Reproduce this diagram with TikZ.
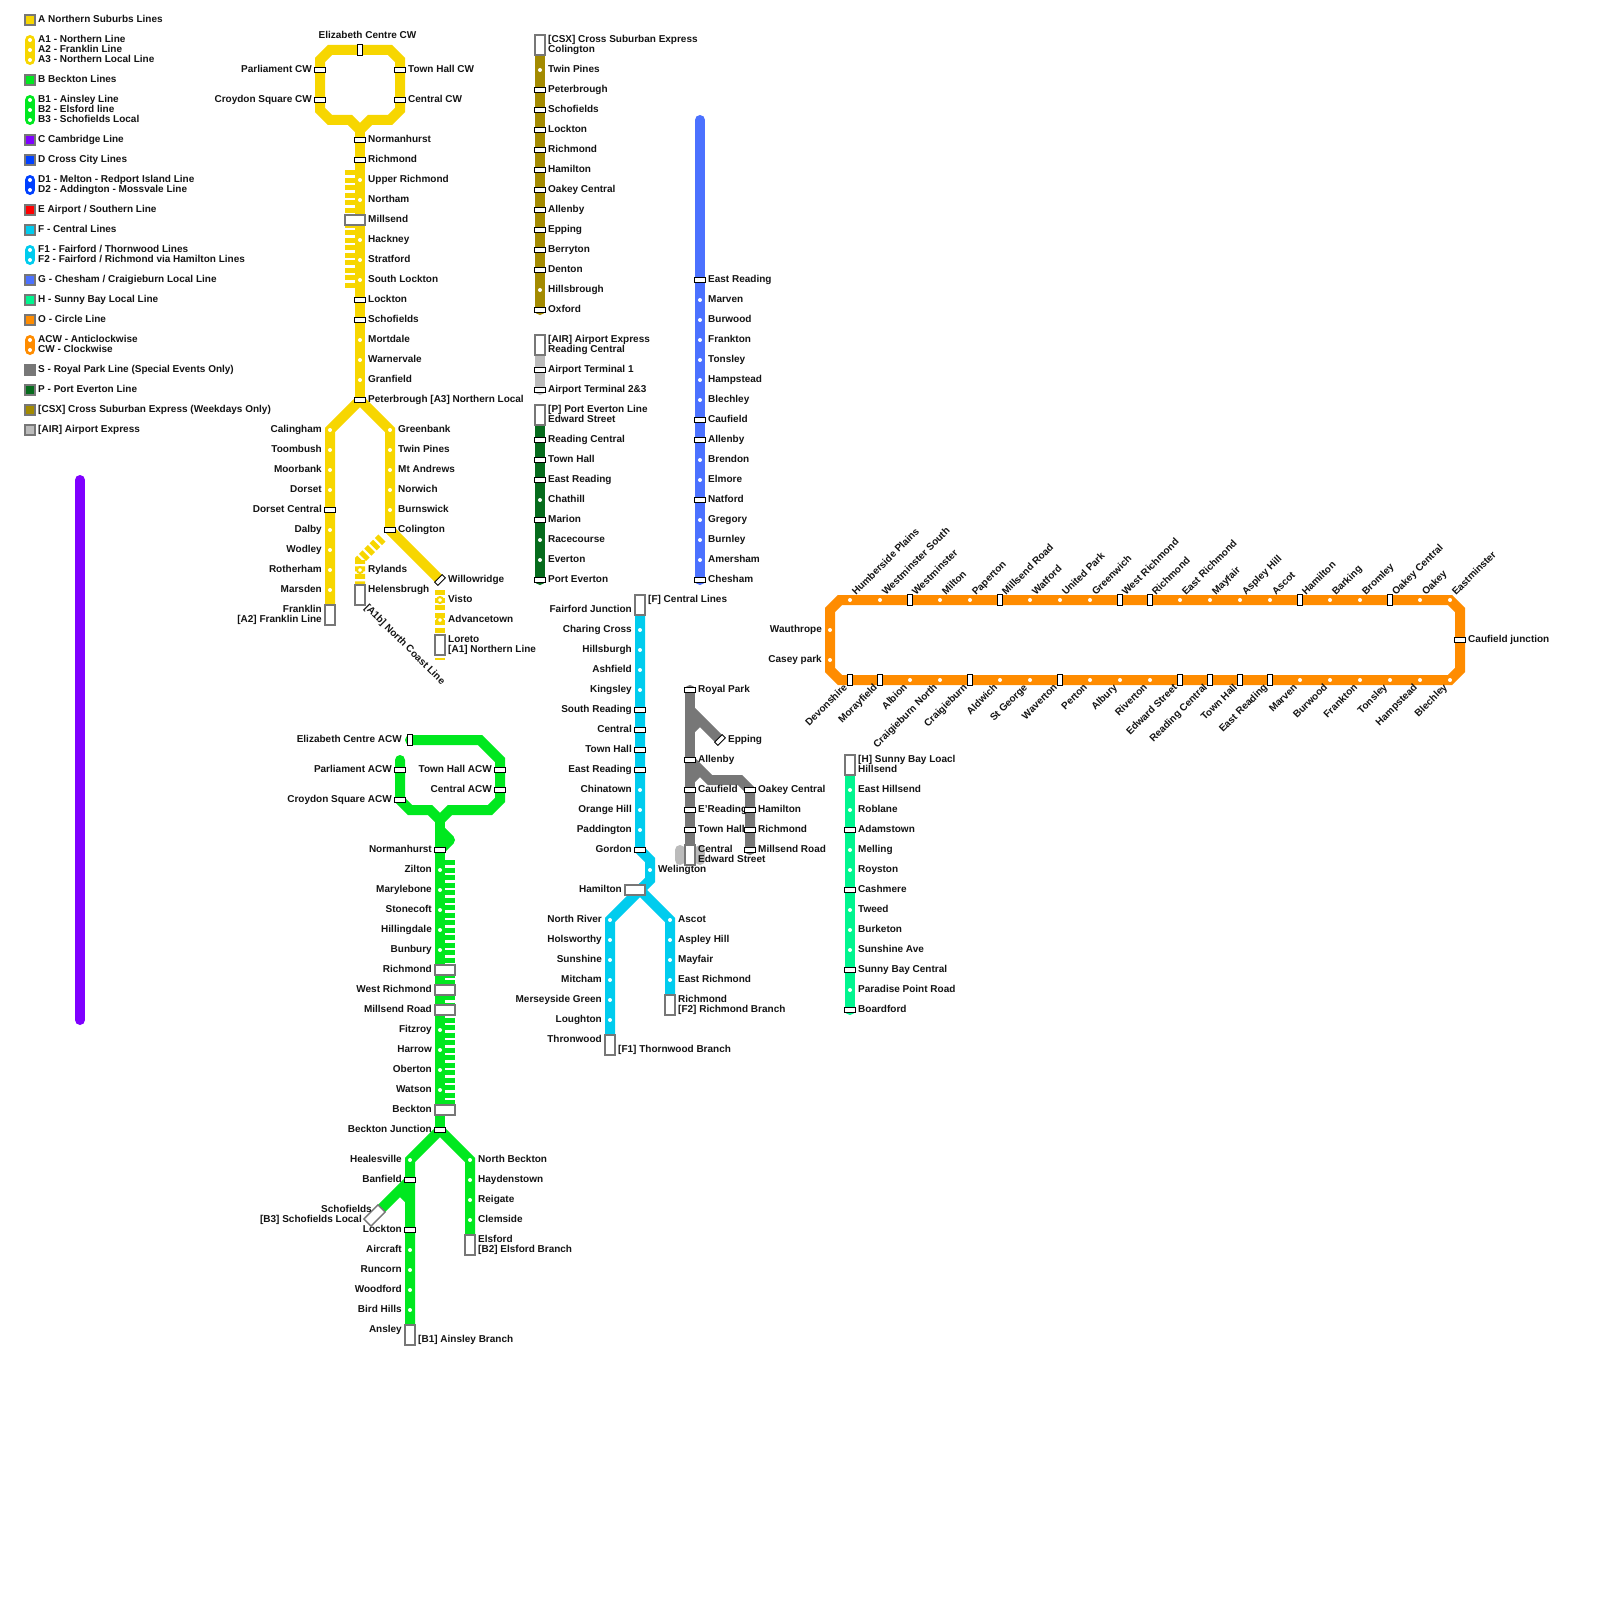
\documentclass[tikz,border=0pt]{standalone}
\usepackage{fontspec}
\setmainfont{Liberation Sans}
\usepackage{xcolor}
\usepackage{tikz}
\usetikzlibrary{backgrounds}
\definecolor{mapyellow}{HTML}{F7D600}
\definecolor{mapgreen}{HTML}{00E81F}
\definecolor{mappurple}{HTML}{7F00FF}
\definecolor{mapblue}{HTML}{0040FF}
\definecolor{mapred}{HTML}{FF0000}
\definecolor{mapcyan}{HTML}{00CCEE}
\definecolor{mapsky}{HTML}{4B71FF}
\definecolor{mapmint}{HTML}{00F58F}
\definecolor{maporange}{HTML}{FF8C00}
\definecolor{mapgray}{HTML}{777777}
\definecolor{mapforest}{HTML}{056B1C}
\definecolor{mapolive}{HTML}{A38A00}
\definecolor{mapsilver}{HTML}{BBBBBB}

\begin{document}
\begin{tikzpicture}[
    x=1pt, y=-1pt,
    track/.style={line width=10pt},
    endround/.style={track, line cap=round},
    stripes/.style={track, dash pattern=on 5pt off 2.5pt},
    txt/.style={inner sep=0pt, font=\fontsize{10}{10}\selectfont\bfseries, text=black!92},
    oneline/.style={txt, text height=7.5pt, text depth=2pt},
    twolines/.style={txt, execute at begin node=\rule{0pt}{7.5pt}, execute at end node=\rule[-2pt]{0pt}{2pt}},
    lblr/.style={oneline, anchor=west, xshift=8pt, yshift=.2pt},
    lbll/.style={oneline, anchor=east, xshift=-8pt, yshift=.2pt},
    lblrr/.style={twolines, anchor=west, xshift=8pt, yshift=.2pt, align=left},
    lblll/.style={twolines, anchor=east, xshift=-8pt, yshift=.2pt, align=right},
    lblup/.style={oneline, anchor=west, rotate=45},
    lbldn/.style={oneline, anchor=east, rotate=45},
    dot/.style={circle, fill=white, minimum size=4pt, inner sep=0pt},
    ringdot/.style={circle, fill=white, draw=mapyellow, line width=2pt, minimum size=6pt, inner sep=0pt},
    tickh/.style={draw=black, fill=white, line width=.9pt, minimum width=10.5pt, minimum height=4.6pt, inner sep=0pt},
    tickv/.style={tickh, minimum width=4.6pt, minimum height=10.5pt},
    tickd/.style={tickh, rotate=45},
    termbox/.style={draw=mapgray, fill=white, line width=1.4pt, minimum width=10pt, minimum height=20pt, inner sep=0pt},
    widebox/.style={termbox, minimum width=20pt, minimum height=10pt},
    wideleft/.style={widebox, xshift=-5pt},
    wideright/.style={widebox, xshift=5pt},
    legsq/.style={draw=mapgray, line width=1.4pt, minimum size=10pt, inner sep=0pt},
]
\useasboundingbox (0,0) rectangle (1600,1600);

% Legend squares
\foreach \y/\col/\lbl in {20/mapyellow/A Northern Suburbs Lines, 80/mapgreen/B Beckton Lines,
    140/mappurple/C Cambridge Line, 160/mapblue/D Cross City Lines, 210/mapred/{E Airport / Southern Line},
    230/mapcyan/F - Central Lines, 280/mapsky/{G - Chesham / Craigieburn Local Line},
    300/mapmint/H - Sunny Bay Local Line, 320/maporange/O - Circle Line,
    370/mapgray/S - Royal Park Line (Special Events Only), 390/mapforest/P - Port Everton Line,
    410/mapolive/{[CSX] Cross Suburban Express (Weekdays Only)}, 430/mapsilver/{[AIR] Airport Express}} {
  \node[legsq, fill=\col] (leg\y) at (30,\y) {};
  \node[lblr] (leg\y t) at (30,\y) {\lbl};
}
% Legend pills
\foreach \y/\lbl in {40/A1 - Northern Line, 50/A2 - Franklin Line, 60/A3 - Northern Local Line,
    100/B1 - Ainsley Line, 110/B2 - Elsford line, 120/B3 - Schofields Local,
    180/D1 - Melton - Redport Island Line, 190/D2 - Addington - Mossvale Line,
    250/{F1 - Fairford / Thornwood Lines}, 260/{F2 - Fairford / Richmond via Hamilton Lines},
    340/ACW - Anticlockwise, 350/CW - Clockwise} {
  \node[dot] (leg\y) at (30,\y) {};
  \node[lblr] (leg\y t) at (30,\y) {\lbl};
}

% A: Northern Suburbs
\foreach \y/\kind/\lbl in {140/tickh/Normanhurst, 160/tickh/Richmond, 180/dot/Upper Richmond, 200/dot/Northam,
    220/wideleft/Millsend, 240/dot/Hackney, 260/dot/Stratford, 280/dot/South Lockton, 300/tickh/Lockton,
    320/tickh/Schofields, 340/dot/Mortdale, 360/dot/Warnervale, 380/dot/Granfield,
    400/tickh/{Peterbrough [A3] Northern Local}} {
  \node[\kind] (a\y) at (360,\y) {};
  \node[lblr] (a\y t) at (360,\y) {\lbl};
}
\node[tickv] (atop) at (360,50) {};
\node[oneline] (atopt) at (367.5,36) {Elizabeth Centre CW};
\node[tickh] (al70) at (320,70) {};
\node[lbll] (al70t) at (320,70) {Parliament CW};
\node[tickh] (al100) at (320,100) {};
\node[lbll] (al100t) at (320,100) {Croydon Square CW};
\node[tickh] (ar70) at (400,70) {};
\node[lblr] (ar70t) at (400,70) {Town Hall CW};
\node[tickh] (ar100) at (400,100) {};
\node[lblr] (ar100t) at (400,100) {Central CW};
\foreach \y/\kind/\lbl in {430/dot/Calingham, 450/dot/Toombush, 470/dot/Moorbank, 490/dot/Dorset,
    510/tickh/Dorset Central, 530/dot/Dalby, 550/dot/Wodley, 570/dot/Rotherham, 590/dot/Marsden} {
  \node[\kind] (af\y) at (330,\y) {};
  \node[lbll] (af\y t) at (330,\y) {\lbl};
}
\node[termbox] (af615) at (330,615) {};
\node[lblll] (af615t) at (330,615) {Franklin\\{[A2] Franklin Line}};
\foreach \y/\kind/\lbl in {430/dot/Greenbank, 450/dot/Twin Pines, 470/dot/Mt Andrews, 490/dot/Norwich,
    510/dot/Burnswick, 530/tickh/Colington} {
  \node[\kind] (an\y) at (390,\y) {};
  \node[lblr] (an\y t) at (390,\y) {\lbl};
}
\node[tickd] (an580) at (440,580) {};
\node[lblr] (an580t) at (440,580) {Willowridge};
\node[ringdot] (an600) at (440,600) {};
\node[lblr] (an600t) at (440,600) {Visto};
\node[ringdot] (an620) at (440,620) {};
\node[lblr] (an620t) at (440,620) {Advancetown};
\node[termbox] (an645) at (440,645) {};
\node[lblrr] (an645t) at (440,645) {Loreto\\{[A1] Northern Line}};
\node[ringdot] (ac570) at (360,570) {};
\node[lblr] (ac570t) at (360,570) {Rylands};
\node[termbox] (ac595) at (360,595) {};
\node[lblr] (ac595t) at (360,590) {Helensbrugh};
\node[oneline, anchor=west, rotate=-45] (ac595n) at (366,606) {[A1b] North Coast Line};

% B: Beckton
\foreach \y/\kind/\lbl in {850/tickh/Normanhurst, 870/dot/Zilton, 890/dot/Marylebone, 910/dot/Stonecoft,
    930/dot/Hillingdale, 950/dot/Bunbury, 970/wideright/Richmond, 990/wideright/West Richmond,
    1010/wideright/Millsend Road, 1030/dot/Fitzroy, 1050/dot/Harrow, 1070/dot/Oberton, 1090/dot/Watson,
    1110/wideright/Beckton, 1130/tickh/Beckton Junction} {
  \node[\kind] (b\y) at (440,\y) {};
  \node[lbll] (b\y t) at (440,\y) {\lbl};
}
\node[tickv] (btop) at (410,740) {};
\node[lbll] (btopt) at (410,740) {Elizabeth Centre ACW};
\node[tickh] (bl770) at (400,770) {};
\node[lbll] (bl770t) at (400,770) {Parliament ACW};
\node[tickh] (bl800) at (400,800) {};
\node[lbll] (bl800t) at (400,800) {Croydon Square ACW};
\node[tickh] (br770) at (500,770) {};
\node[lbll] (br770t) at (500,770) {Town Hall ACW};
\node[tickh] (br790) at (500,790) {};
\node[lbll] (br790t) at (500,790) {Central ACW};
\foreach \y/\kind/\lbl in {1160/dot/Healesville, 1180/tickh/Banfield, 1230/tickh/Lockton, 1250/dot/Aircraft,
    1270/dot/Runcorn, 1290/dot/Woodford, 1310/dot/Bird Hills} {
  \node[\kind] (ba\y) at (410,\y) {};
  \node[lbll] (ba\y t) at (410,\y) {\lbl};
}
\node[termbox] (ba1335) at (410,1335) {};
\node[lbll] (ba1335l) at (410,1330) {Ansley};
\node[lblr] (ba1335r) at (410,1340) {[B1] Ainsley Branch};
\node[widebox, rotate=45] (bs) at (374.5,1215.5) {};
\node[lbll] (bst) at (380,1210) {Schofields};
\node[lbll] (bsb) at (370,1220) {[B3] Schofields Local};
\foreach \y/\kind/\lbl in {1160/dot/North Beckton, 1180/dot/Haydenstown, 1200/dot/Reigate, 1220/dot/Clemside} {
  \node[\kind] (be\y) at (470,\y) {};
  \node[lblr] (be\y t) at (470,\y) {\lbl};
}
\node[termbox] (be1245) at (470,1245) {};
\node[lblrr] (be1245t) at (470,1245) {Elsford\\{[B2] Elsford Branch}};

% CSX, Airport, Port Everton
\node[termbox] (csx45) at (540,45) {};
\node[lblrr] (csx45t) at (540,45) {{[CSX] Cross Suburban Express}\\Colington};
\foreach \y/\kind/\lbl in {70/dot/Twin Pines, 90/tickh/Peterbrough, 110/tickh/Schofields, 130/tickh/Lockton,
    150/tickh/Richmond, 170/tickh/Hamilton, 190/tickh/Oakey Central, 210/tickh/Allenby, 230/tickh/Epping,
    250/tickh/Berryton, 270/tickh/Denton, 290/dot/Hillsbrough, 310/tickh/Oxford} {
  \node[\kind] (csx\y) at (540,\y) {};
  \node[lblr] (csx\y t) at (540,\y) {\lbl};
}
\node[termbox] (air345) at (540,345) {};
\node[lblrr] (air345t) at (540,345) {{[AIR] Airport Express}\\Reading Central};
\node[tickh] (air370) at (540,370) {};
\node[lblr] (air370t) at (540,370) {Airport Terminal 1};
\node[tickh] (air390) at (540,390) {};
\node[lblr] (air390t) at (540,390) {Airport Terminal 2\&3};
\node[termbox] (pe415) at (540,415) {};
\node[lblrr] (pe415t) at (540,415) {{[P] Port Everton Line}\\Edward Street};
\foreach \y/\kind/\lbl in {440/tickh/Reading Central, 460/tickh/Town Hall, 480/tickh/East Reading, 500/dot/Chathill,
    520/tickh/Marion, 540/dot/Racecourse, 560/dot/Everton, 580/tickh/Port Everton} {
  \node[\kind] (pe\y) at (540,\y) {};
  \node[lblr] (pe\y t) at (540,\y) {\lbl};
}

% G: Chesham
\foreach \y/\kind/\lbl in {280/tickh/East Reading, 300/dot/Marven, 320/dot/Burwood, 340/dot/Frankton, 360/dot/Tonsley,
    380/dot/Hampstead, 400/dot/Blechley, 420/tickh/Caufield, 440/tickh/Allenby, 460/dot/Brendon, 480/dot/Elmore,
    500/tickh/Natford, 520/dot/Gregory, 540/dot/Burnley, 560/dot/Amersham, 580/tickh/Chesham} {
  \node[\kind] (g\y) at (700,\y) {};
  \node[lblr] (g\y t) at (700,\y) {\lbl};
}

% F: Central
\node[termbox] (f605) at (640,605) {};
\node[lblr] (f605r) at (640,600) {[F] Central Lines};
\node[lbll] (f605l) at (640,610) {Fairford Junction};
\foreach \y/\kind/\lbl in {630/dot/Charing Cross, 650/dot/Hillsburgh, 670/dot/Ashfield, 690/dot/Kingsley,
    710/tickh/South Reading, 730/tickh/Central, 750/tickh/Town Hall, 770/tickh/East Reading, 790/dot/Chinatown,
    810/dot/Orange Hill, 830/dot/Paddington, 850/tickh/Gordon} {
  \node[\kind] (f\y) at (640,\y) {};
  \node[lbll] (f\y t) at (640,\y) {\lbl};
}
\node[dot] (f870) at (650,870) {};
\node[lblr] (f870t) at (650,870) {Welington};
\node[widebox] (f890) at (635,890) {};
\node[lbll] (f890t) at (630,890) {Hamilton};
\foreach \y/\lbl in {920/North River, 940/Holsworthy, 960/Sunshine, 980/Mitcham, 1000/Merseyside Green, 1020/Loughton} {
  \node[dot] (fl\y) at (610,\y) {};
  \node[lbll] (fl\y t) at (610,\y) {\lbl};
}
\node[termbox] (fl1045) at (610,1045) {};
\node[lbll] (fl1045l) at (610,1040) {Thronwood};
\node[lblr] (fl1045r) at (610,1050) {[F1] Thornwood Branch};
\foreach \y/\lbl in {920/Ascot, 940/Aspley Hill, 960/Mayfair, 980/East Richmond} {
  \node[dot] (fr\y) at (670,\y) {};
  \node[lblr] (fr\y t) at (670,\y) {\lbl};
}
\node[termbox] (fr1005) at (670,1005) {};
\node[lblrr] (fr1005t) at (670,1005) {Richmond\\{[F2] Richmond Branch}};

% S: Royal Park
\foreach \y/\lbl in {690/Royal Park, 760/Allenby, 790/Caufield, 810/E'Reading, 830/Town Hall} {
  \node[tickh] (s\y) at (690,\y) {};
  \node[lblr] (s\y t) at (690,\y) {\lbl};
}
\node[termbox] (s855) at (690,855) {};
\node[lblrr] (s855t) at (690,855) {Central\\Edward Street};
\node[tickd] (sep) at (720,740) {};
\node[lblr] (sept) at (720,740) {Epping};
\foreach \y/\lbl in {790/Oakey Central, 810/Hamilton, 830/Richmond, 850/Millsend Road} {
  \node[tickh] (so\y) at (750,\y) {};
  \node[lblr] (so\y t) at (750,\y) {\lbl};
}

% H: Sunny Bay
\node[termbox] (h765) at (850,765) {};
\node[lblrr] (h765t) at (850,765) {{[H] Sunny Bay Loacl}\\Hillsend};
\foreach \y/\kind/\lbl in {790/dot/East Hillsend, 810/dot/Roblane, 830/tickh/Adamstown, 850/dot/Melling, 870/dot/Royston,
    890/tickh/Cashmere, 910/dot/Tweed, 930/dot/Burketon, 950/dot/Sunshine Ave, 970/tickh/Sunny Bay Central,
    990/dot/Paradise Point Road, 1010/tickh/Boardford} {
  \node[\kind] (h\y) at (850,\y) {};
  \node[lblr] (h\y t) at (850,\y) {\lbl};
}

% O: Circle
\foreach \x/\kind/\lbl in {850/dot/Humberside Plains, 880/dot/Westminster South, 910/tickv/Westminster, 940/dot/Milton,
    970/dot/Paperton, 1000/tickv/Millsend Road, 1030/dot/Watford, 1060/dot/United Park, 1090/dot/Greenwich,
    1120/tickv/West Richmond, 1150/tickv/Richmond, 1180/dot/East Richmond, 1210/dot/Mayfair, 1240/dot/Aspley Hill,
    1270/dot/Ascot, 1300/tickv/Hamilton, 1330/dot/Barking, 1360/dot/Bromley, 1390/tickv/Oakey Central, 1420/dot/Oakey,
    1450/dot/Eastminster} {
  \node[\kind] (ot\x) at (\x,600) {};
  \node[lblup] (ot\x t) at (\x+4,594) {\lbl};
}
\foreach \x/\kind/\lbl in {850/tickv/Devonshire, 880/tickv/Morayfield, 910/dot/Albion, 940/dot/Craigieburn North,
    970/tickv/Craigieburn, 1000/dot/Aldwich, 1030/dot/St George, 1060/tickv/Waverton, 1090/dot/Perton, 1120/dot/Albury,
    1150/dot/Riverton, 1180/tickv/Edward Street, 1210/tickv/Reading Central, 1240/tickv/Town Hall, 1270/tickv/East Reading,
    1300/dot/Marven, 1330/dot/Burwood, 1360/dot/Frankton, 1390/dot/Tonsley, 1420/dot/Hampstead, 1450/dot/Blechley} {
  \node[\kind] (ob\x) at (\x,680) {};
  \node[lbldn] (ob\x t) at (\x-4,686) {\lbl};
}
\node[dot] (ol630) at (830,630) {};
\node[lbll] (ol630t) at (830,630) {Wauthrope};
\node[dot] (ol660) at (830,660) {};
\node[lbll] (ol660t) at (830,660) {Casey park};
\node[tickh] (or640) at (1460,640) {};
\node[lblr] (or640t) at (1460,640) {Caufield junction};

% Bend points
\foreach \n/\x/\y in {aa/360/130, ab/350/120, ac/330/120, ad/320/110, ae/320/60, af/330/50, ag/390/50, ah/400/60,
    ai/400/110, aj/390/120, ak/370/120, as1/350/170, as2/350/288, an1/382/538, an2/360/560, an3/360/584,
    an4/440/590, an5/440/660,
    ba/440/820, bb/430/810, bc/410/810, bd/400/760, be/450/810, bf/490/810, bg/500/800, bh/500/760, bi/480/740,
    bj/440/830, bk/450/840, bm/450/860, bn/450/1105, bo/400/1190, bp/410/1200,
    fa/650/860, fb/650/880, fc/640/890, sa/690/710, sb/690/730, sc/700/720, sd/690/780, se/700/770, sf/710/780,
    sg/740/780, oa/840/600, ob/830/610, oc/830/670, od/840/680, oe/1450/680, of/1460/670, og/1460/610, oh/1450/600,
    ca/80/480, cb/80/1020, ga/700/120, ra/680/850, rb/680/860, rc/700/850, rd/700/860} {
  \coordinate (\n) at (\x,\y);
}

\begin{pgfonlayer}{background}
% Legend pills
\draw[endround, mapyellow] (leg40.center) -- (leg60.center);
\draw[endround, mapgreen] (leg100.center) -- (leg120.center);
\draw[endround, mapblue] (leg180.center) -- (leg190.center);
\draw[endround, mapcyan] (leg250.center) -- (leg260.center);
\draw[endround, maporange] (leg340.center) -- (leg350.center);
% Cambridge bar and Chesham
\draw[endround, mappurple] (ca) -- (cb);
\draw[endround, mapsky] (ga) -- (g580.center);
% A
\draw[track, mapyellow] (aa) -- (ab) -- (ac) -- (ad) -- (ae) -- (af) -- (ag) -- (ah) -- (ai) -- (aj) -- (ak) -- cycle;
\draw[track, mapyellow] (aa) -- (a400.center);
\draw[stripes, mapyellow] (as1) -- (as2);
\draw[track, mapyellow] (af615.center) -- (af430.center) -- (a400.center) -- (an430.center) -- (an530.center) -- (an580.center);
\draw[stripes, mapyellow] (an1) -- (an2) -- (an3);
\draw[stripes, mapyellow] (an4) -- (an5);
% B
\draw[endround, mapgreen] (btop.center) -- (bi) -- (bh) -- (bg) -- (bf) -- (be) -- (ba) -- (bb) -- (bc) -- (bl800.center) -- (bd);
\draw[track, mapgreen] (ba) -- (b1130.center);
\draw[track, mapgreen, line join=round] (bj) -- (bk) -- (b850.center);
\draw[stripes, mapgreen] (bm) -- (bn);
\draw[track, mapgreen] (ba1335.center) -- (ba1160.center) -- (b1130.center) -- (be1160.center) -- (be1245.center);
\draw[track, mapgreen] (ba1180.center) -- (bs.center);
\draw[track, mapgreen] (bo) -- (bp);
% CSX, Airport, Port Everton
\draw[endround, mapolive] (csx45.center) -- (csx310.center);
\draw[endround, mapsilver] (air345.center) -- (air390.center);
\draw[endround, mapforest] (pe415.center) -- (pe580.center);
% F
\draw[track, mapcyan] (f605.center) -- (f850.center) -- (fa) -- (fb) -- (fc);
\draw[track, mapcyan] (fl1045.center) -- (fl920.center) -- (fc) -- (fr920.center) -- (fr1005.center);
% S
\draw[endround, mapsilver] (ra) -- (rb);
\draw[endround, mapsilver] (rc) -- (rd);
\draw[endround, mapgray] (s690.center) -- (s855.center);
\draw[track, mapgray] (sa) -- (sep.center);
\draw[track, mapgray] (sb) -- (sc);
\draw[endround, mapgray] (s760.center) -- (sf) -- (sg) -- (so790.center) -- (so850.center);
\draw[track, mapgray] (sd) -- (se);
% H
\draw[endround, mapmint] (h765.center) -- (h1010.center);
% O
\draw[track, maporange] (oa) -- (ob) -- (oc) -- (od) -- (oe) -- (of) -- (og) -- (oh) -- cycle;
\end{pgfonlayer}
\end{tikzpicture}
\end{document}
